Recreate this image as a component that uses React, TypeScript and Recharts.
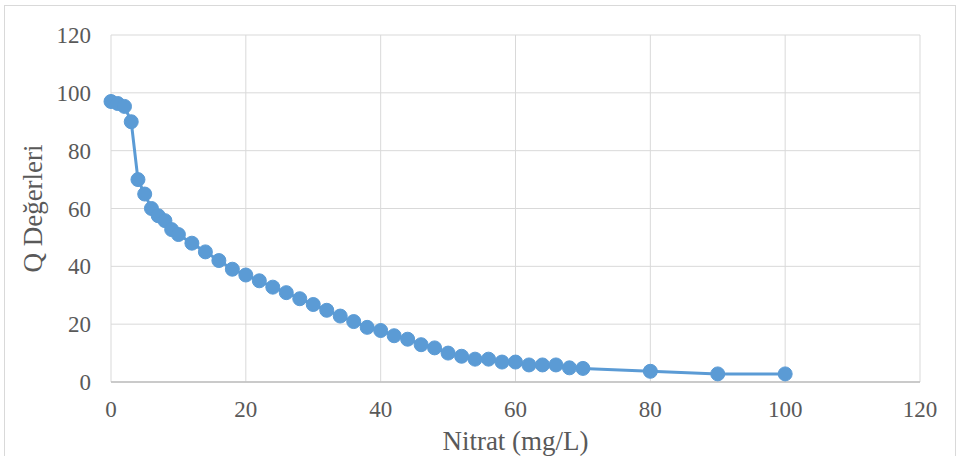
import { LineChart, Line, XAxis, YAxis, CartesianGrid } from "recharts";

// Nitrat concentration (mg/L) vs. Q sub-index value
const nitrat = [
  0, 1, 2, 3, 4, 5, 6, 7, 8, 9, 10, 12, 14, 16, 18, 20, 22, 24, 26, 28, 30, 32, 34, 36, 38, 40, 42, 44, 46,
  48, 50, 52, 54, 56, 58, 60, 62, 64, 66, 68, 70, 80, 90, 100,
];
const qValues = [
  97, 96.3, 95.3, 90, 70, 65, 60, 57.5, 55.8, 52.7, 51, 48, 45, 42, 39, 37, 35, 32.8, 30.9, 28.8, 26.8, 24.8,
  22.8, 20.9, 18.9, 17.8, 16, 14.8, 12.9, 11.8, 10, 8.9, 7.9, 7.9, 6.9, 6.9, 5.9, 5.9, 5.9, 4.9, 4.7, 3.7, 2.8,
  2.8,
];
const axisTicks = [0, 20, 40, 60, 80, 100, 120];

const data = nitrat.map((x, i) => ({ x, q: qValues[i] }));

const FONT = '"Liberation Serif", "Times New Roman", serif';
const TEXT = "#595959";
const BLUE = "#5B9BD5";
const TICK_FS = 23;
const TITLE_FS = 27;

export default function App() {
  return (
    <div style={{ position: "absolute", left: 0, top: 0, width: 959, height: 456, overflow: "hidden", background: "#fff" }}>
      <div
        style={{
          position: "absolute",
          left: 4,
          top: 5,
          width: 952,
          height: 470,
          border: "1px solid #d9d9d9",
          boxSizing: "border-box",
        }}
      />
      <LineChart
        width={959}
        height={456}
        data={data}
        margin={{ top: 35, right: 39, bottom: 0, left: 0 }}
        style={{ position: "absolute", left: 0, top: 0 }}
      >
        <CartesianGrid stroke="#d9d9d9" strokeWidth={1} />
        <XAxis
          dataKey="x"
          type="number"
          domain={[0, 120]}
          ticks={axisTicks}
          height={74}
          tickLine={false}
          axisLine={{ stroke: "#bfbfbf", strokeWidth: 1.5 }}
          tick={{ fill: TEXT, fontSize: TICK_FS, fontFamily: FONT }}
          tickMargin={13}
          label={{
            value: "Nitrat (mg/L)",
            position: "insideBottom",
            offset: 6,
            fill: TEXT,
            fontSize: TITLE_FS,
            fontFamily: FONT,
          }}
        />
        <YAxis
          type="number"
          domain={[0, 120]}
          ticks={axisTicks}
          width={111}
          tickLine={false}
          axisLine={false}
          tick={{ fill: TEXT, fontSize: TICK_FS, fontFamily: FONT }}
          tickMargin={14}
          label={{
            value: "Q Değerleri",
            angle: -90,
            position: "insideLeft",
            offset: 32,
            style: { textAnchor: "middle" },
            fill: TEXT,
            fontSize: TITLE_FS,
            fontFamily: FONT,
          }}
        />
        <Line
          type="linear"
          dataKey="q"
          stroke={BLUE}
          strokeWidth={3}
          dot={{ r: 7, fill: BLUE, stroke: BLUE, strokeWidth: 1 }}
          isAnimationActive={false}
        />
      </LineChart>
    </div>
  );
}
